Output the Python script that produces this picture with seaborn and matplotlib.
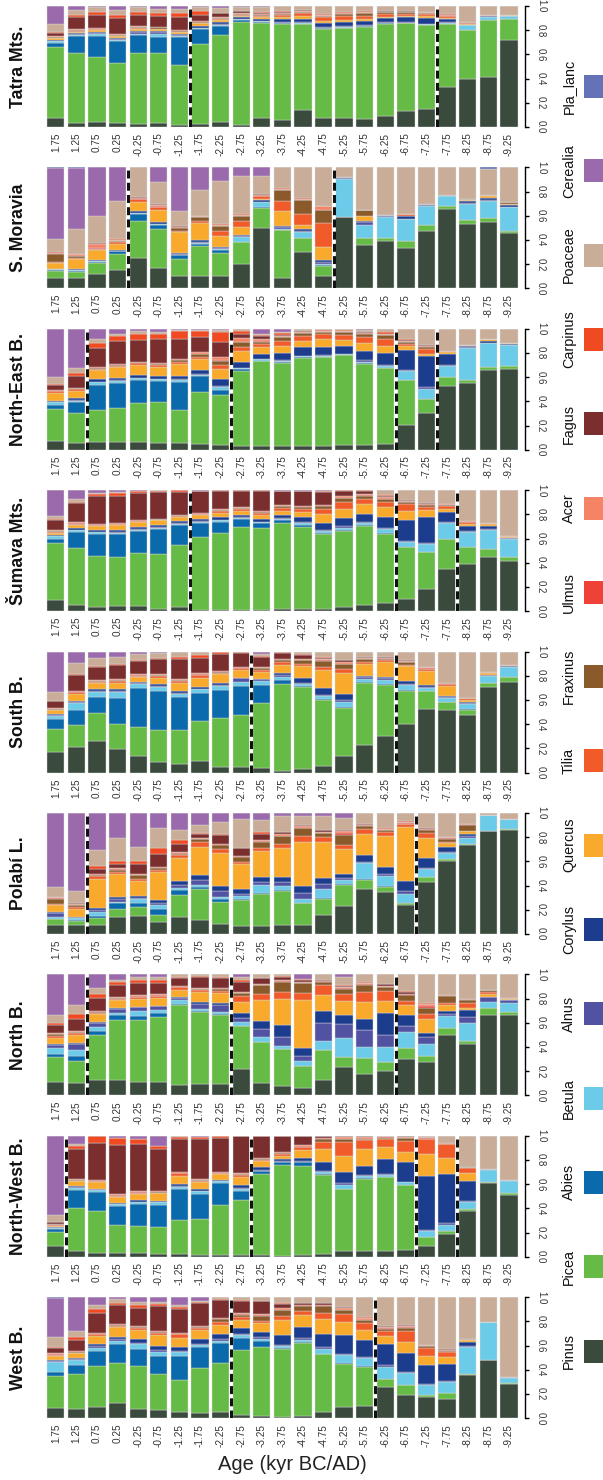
import numpy as np
import matplotlib
matplotlib.use("Agg")
import matplotlib.pyplot as plt
from matplotlib.patches import Rectangle
from matplotlib import font_manager as fm
import seaborn as sns

# ---------------------------------------------------------------- data
ages = ["1.75", "1.25", "0.75", "0.25", "-0.25", "-0.75", "-1.25", "-1.75",
        "-2.25", "-2.75", "-3.25", "-3.75", "-4.25", "-4.75", "-5.25", "-5.75",
        "-6.25", "-6.75", "-7.25", "-7.75", "-8.25", "-8.75", "-9.25"]

taxa = ["Pinus", "Picea", "Abies", "Betula", "Alnus", "Corylus", "Quercus",
        "Tilia", "Fraxinus", "Ulmus", "Acer", "Fagus", "Carpinus", "Poaceae",
        "Cerealia", "Pla_lanc"]

taxon_colors = ["#3a4b3e", "#66bb46", "#0b6aac", "#6ccbe8", "#5252a3", "#1c3c8e",
                "#f9a92b", "#f15a29", "#8b5a2b", "#ee4137", "#f58466", "#7a2f2e",
                "#f04a22", "#c9ad98", "#9a6aac", "#6473b8"]

# one row per age bin, columns follow `taxa` (percent of pollen sum)
tatra = [
    [8, 60, 3.5, 1, .5, .5, 1.5, .5, .5, .5, .5, 3, .5, 7, 15, 0],
    [3, 58, 14, 1, .8, .8, 1.4, .5, .8, .3, .3, 10.5, 1.4, 4, 3.3, 0],
    [4, 55, 17, 2, 1, .8, 1.4, .5, .5, .3, .3, 11, 2.5, 4, 1, 0],
    [3, 51, 18, 1, 1, 1, 1.4, .5, .5, .3, .3, 14, 2.5, 4, 3.3, 0],
    [2.5, 60, 15, 1, 1, 1, 2, .5, .8, .3, .3, 9.5, 2.5, 4, 1.2, 0],
    [3.5, 58, 13, 3, 1, 1, 1.5, .5, 1, .3, .3, 8.5, 2.5, 3.5, 2.7, 0],
    [2, 49, 23, 1, 1, 1, 1.2, .5, .8, .3, .3, 11, 2.7, 3.5, 2.5, 0],
    [2.5, 67, 12, 1, .5, 1.5, 2, .5, 1, .3, .5, 5, 3.3, 3, 1, 0],
    [4, 72, 8, .5, .5, 2, 1.5, .8, 1, .3, .5, 3, .7, 3.5, 2, 0],
    [1.7, 85.5, 2, .3, .3, 1.5, 1.4, .5, .8, .3, .3, 1.5, .5, 3, 1, 0],
    [7.5, 79, .5, .5, .5, 1.5, 1.7, 1, 1, .3, .5, .8, .5, 4.5, .5, 0],
    [5.5, 80, .5, .5, .5, 2.7, 2, 1.5, 1, .3, .5, .5, .5, 4.5, 0, 0],
    [14, 71, .5, .5, .5, 2.7, 3, 2, 1, .3, .5, .5, .3, 3.3, 0, 0],
    [7.7, 73.5, .5, .5, .5, 3.3, 2, 2.7, 1, .3, .5, .5, .5, 6.6, 0, 0],
    [7, 73.5, .3, .8, .5, 3.3, 2, 2.7, 2, .3, .5, .3, .3, 5, 0, 0],
    [6.3, 76.5, .3, .3, .5, 3.3, 2, 2.7, 2, .3, .5, .3, .3, 4.5, 0, 0],
    [9, 77, .3, .5, .5, 3.6, 1, 2.2, 1.4, .3, .3, .3, .3, 4, 0, 0],
    [13, 73, .3, .3, .5, 4, 1.4, 1.4, 1.4, .3, .3, .3, .3, 4, 0, 0],
    [14.6, 70, .3, .3, .5, 5, 1.1, 1.6, 1.1, .3, .3, .3, .3, 4.7, 0, 0],
    [33.7, 52.5, .3, .5, .5, 2.7, 1, 1.4, .5, .3, .3, .3, .3, 7, 0, 0],
    [39.5, 41, 0, 4.4, 0, .3, .5, 1, .3, .3, .3, 0, 0, 13, 0, 0],
    [41.4, 47, 0, 2.2, .3, .5, .3, .5, .3, 0, 0, 0, 0, 7.5, 0, 0],
    [72.4, 16.9, 0, 2.5, .3, .3, .3, .3, 0, 0, 0, 0, 0, 7.5, 0, 0],
]

s_moravia = [
    [8.6, 6, .5, .8, .3, .3, 4.7, .8, 7, .3, .3, .3, .3, 11, 60, .3],
    [8.3, 5.5, 1, .5, 0, .5, 8.3, 1.4, 1, .3, 1.6, 0, 0, 20.8, 51, .3],
    [12, 8.3, 1.5, .5, .3, .5, 8.3, .5, .5, .3, 3.5, .8, 0, 22, 39.6, 0],
    [15.5, 13, 2.2, .5, .3, .8, 4.7, 1.4, .6, .5, .5, .3, 1, 31.6, 27.7, 0],
    [25, 30.5, 5.8, 1, .5, 1.7, 7, 2.2, .5, .3, .3, .5, .5, 24.4, 0, 0],
    [16.6, 32, 3.3, .5, .5, 1.4, 9.7, 2.5, .5, .3, 1, .5, .3, 18, 12, 0],
    [10, 14.4, 3.3, .5, .5, .5, 17.5, 1.1, 2.8, .3, .5, .5, .3, 12, 36.8, 0],
    [10, 24.6, 2.2, .8, 1, 1.1, 13.9, 2, 2.8, .3, .5, .3, .5, 20.8, 18.8, 0],
    [10.5, 18.6, 2.2, 1, .5, 1.4, 9, 3.6, 3.9, .3, .5, .5, .5, 35.5, 11, 0],
    [19.7, 17.7, .5, 3.9, .5, 1.4, 6.6, 4.7, 3.6, .5, .5, .3, .3, 31, 7.2, 0],
    [50.7, 16.6, .3, 4.4, .5, 1.1, 1.4, 1.9, .5, .5, .5, .3, .3, 15.2, 6.9, 0],
    [8.3, 40.4, .3, .5, 1.4, 1.1, 13, 7.8, 9.1, .5, .5, .3, .3, 17.5, 0, 0],
    [30.5, 11, .3, 4.7, 1.4, 1.1, 3.6, 9.4, 11.4, .3, .5, .3, .3, 25.8, 0, 0],
    [10, 8.9, .3, 1.4, 1.4, 2, 11, 20, 10.5, .5, 2.8, .3, .3, 31.9, 0, 0],
    [59, .5, 0, 30.7, 1.4, .3, 0, 0, 0, 0, 0, 0, 0, 8.3, 0, 0],
    [36.3, 5.5, 0, 11, 2.5, .5, 3.9, .5, 4.4, 0, 0, 0, 0, 35.5, 0, 0],
    [39, 2.8, 0, 17.2, .5, .8, 0, 0, 0, 0, 0, 0, 0, 39.6, 0, 0],
    [33.2, 5.5, 0, 18.3, .5, 2, .5, 1.4, 0, 0, 0, 0, 0, 38.2, 0, 0],
    [46.5, 5.5, 0, 15.2, .5, 1.1, 0, 0, 0, 0, 0, 0, 0, 30, 0, 0],
    [65.9, 1.9, 0, 8.3, .3, .8, 0, 0, 0, 0, 0, 0, 0, 22.7, 0, 0],
    [53.5, 2.8, 0, 13.9, .5, 1.7, .5, 0, 1.4, 0, 0, 0, 0, 25.8, 0, 0],
    [54.8, 3.6, 0, 13.9, .5, 2.2, 1.1, .8, .3, 0, 0, 0, 0, 21.6, 0, 1.1],
    [45.2, 2.2, 0, 19.1, .5, 1.4, .5, 0, 1.9, 0, 0, 0, 0, 28.5, 0, 0],
]

ne_bohemia = [
    [7.8, 26.3, 3.6, 2.2, .5, .5, 6.9, 1.4, .5, .5, .5, 3.6, 1.4, 5.3, 41, 0],
    [5.8, 24.4, 9.4, 1, .5, 1.7, 6.4, 1.4, .5, 0, 0, 10, 2.8, 4.2, 32.4, 0],
    [6.4, 26.6, 21.3, 1.9, .5, 1.9, 7.5, 1.4, .8, .3, .3, 15.8, 4.4, 3.3, 8.3, 0],
    [6.6, 28.3, 20.2, 1.9, .5, 1.9, 8.9, 1.4, .8, .3, .3, 18.8, 4.7, 1.4, 4.2, 0],
    [6.6, 32.4, 18.6, 1.5, .5, 2.2, 8.3, 1.4, .8, .3, .3, 18, 5, 1.9, 2.2, 0],
    [5.5, 34, 16.9, 1.5, .5, 2.2, 7.8, 1.4, 1, .3, .5, 19.4, 4.2, 1.4, 2.8, 0],
    [5.8, 26.9, 23.5, 1.7, .5, 2.8, 10, 1.7, 1.7, .3, .3, 16.6, 6.1, 1.4, .8, 0],
    [5, 43, 12.7, 1.4, .5, 3.3, 8.9, 1.9, 2.2, .3, 1.4, 12.5, 4.7, 1.4, .8, 0],
    [3.9, 40.2, 4.7, 1.9, 1.4, 5, 8.6, 2.8, 3.6, .5, 2.8, 11.6, 8.9, 1.4, .8, 0],
    [2.8, 61.8, 1.7, .8, .5, 5, 8.9, 2.8, 4.2, .5, 2.8, 3.6, 2.8, 1, .5, 0],
    [3.3, 68.4, .5, 1, .5, 4.2, 5.5, 2.2, 1.9, .5, 1.7, 2.2, 1.1, .8, 4.2, 0],
    [3.3, 67, .5, 1, .5, 5.5, 5.8, 4.4, 2.5, .5, .5, 1.4, 1.4, 1, 2.2, 0],
    [3.3, 72.6, .5, .8, .5, 7.5, 4.7, 4.2, 1.9, .5, .5, .8, .5, 1, .5, 0],
    [3.3, 73.7, .5, .8, .5, 6.4, 6.9, 4.2, 1.4, .5, .5, .5, .5, 1, 0, 0],
    [3.6, 74.8, .5, .5, .5, 6.4, 5, 4.2, 1.9, .5, .5, .5, .5, 1, 0, 0],
    [4.2, 67.3, .5, 1, 1.7, 7.5, 6.4, 5, 2.5, .5, .5, .5, .5, 1, 1.4, 0],
    [5, 63.2, .5, 1.9, .8, 9.7, 6.1, 5.8, 2.8, .5, .5, .5, 1.4, 2.2, .5, 0],
    [21, 37.4, 0, 6.9, 1.4, 16.6, 2.8, 1.9, 1.4, .5, .5, .5, 1.4, 8.3, 0, 0],
    [30.7, 11.6, 0, 8.3, 1.4, 25.2, 2.2, 4.2, 1.4, .5, .5, .5, .5, 13, 0, 0],
    [52.9, 6.9, 0, 9.7, .8, 9.1, 1.4, .5, .5, 0, 0, 0, 0, 18, 0, 0],
    [55.7, 2.2, 0, 26.9, .5, 1.1, .5, .3, 0, 0, 0, 0, 0, 13.3, 0, 0],
    [65.4, 2.8, 0, 19.4, .5, 1.4, 1.4, .5, 0, 0, 0, 0, 0, 8.3, 0, 0],
    [66.8, 2.2, 0, 17.2, .5, .8, .3, 0, 0, 0, 0, 0, 0, 12, 0, 0],
]

sumava = [
    [9.2, 48, 3.6, 2.2, .5, .5, 2, .8, .5, .5, .5, 8.4, .5, 3.1, 21.5, 0],
    [5.6, 47.8, 13.1, 1.4, .5, 1.4, 2.8, .5, .5, .5, .5, 15.9, 1.4, 2.2, 7.5, 0],
    [3.6, 43.3, 18.2, 1.4, .5, 1.4, 3.4, .5, .5, .5, .5, 22.9, 2.2, .8, 2.2, 0],
    [4.2, 41.9, 19, 1, .5, 2, 4.2, .5, .5, .5, .5, 22.9, 2, .8, 1.7, 0],
    [4.5, 43, 18.2, 1, .5, 2, 4.2, .5, .5, .3, .3, 22, 1.4, .5, .5, 0],
    [2.2, 45.3, 20.4, 1, .5, 2, 3.6, .5, .5, .3, .3, 21.5, 1.4, .5, 0, 0],
    [3.1, 51.4, 16.8, 1, .5, 1.7, 3.6, .5, .5, .3, .3, 18.7, 1.4, 0, 0, 0],
    [1.4, 60, 11.2, 1, .5, 2, 3.4, .5, .5, .3, .3, 17.6, .5, 0, .5, 0],
    [.8, 63.7, 9.8, 1, .5, 2, 3.6, 1.4, .8, .3, .5, 15.4, .5, 0, 0, 0],
    [.8, 69.8, 7, .8, .5, 2, 3.4, 1.4, .8, .3, .5, 14, .3, 0, 0, 0],
    [.8, 68.4, 3.6, 1, .5, 2.2, 3.1, 2, .8, .3, .5, 16.8, .3, 0, 0, 0],
    [1.7, 71.8, 2.8, .8, .5, 2.8, 3.4, 2.2, 1.4, .3, .5, 11.7, .5, 0, .5, 0],
    [1.7, 67.6, 1.4, 2, .8, 4.2, 4.2, 2.2, 2, .3, .5, 11.7, .5, 0, .5, 0],
    [2.2, 61.5, .5, 1.7, 1.1, 5.6, 7.3, 3.9, 2.8, .5, .5, 10.3, .5, .5, .5, 0],
    [3.6, 62, .5, 1.7, 1.4, 6.4, 7.5, 5.9, 2.8, .5, 1.4, 4.2, .5, 0, 0, 0],
    [5, 64.2, .5, 1.7, 1.1, 6.4, 7.8, 4.2, 2.8, .5, 1.4, 2.2, .5, 0, 0, 0],
    [7, 57.3, .5, 3.4, .8, 9.5, 8.1, 4.2, 2, .5, 1.4, 1.1, .5, 4.2, 0, 0],
    [10, 42.5, 0, 4.7, .8, 16.8, 7.8, 5.6, 1.4, .5, .5, .8, .5, 7.8, 0, 0],
    [18.4, 31.3, 0, 6.1, .8, 22.3, 5.6, 2.8, 1.4, .5, .5, .5, .5, 10.3, 0, 0],
    [34.9, 25.1, 0, 12.6, .8, 8.4, 2.8, 2, 1.4, .3, .5, 0, 0, 11.2, 0, 0],
    [38.5, 14.8, 0, 11.7, .8, 4.7, 1.4, 1.4, .5, .3, .5, 0, 0, 25.1, 0, 0],
    [45, 6.7, 0, 15.6, .8, 2.8, 1.4, .8, 0, 0, 0, 0, 0, 27.1, 0, 0],
    [41.9, 3.1, 0, 15.1, .5, .5, .5, .5, 0, 0, 0, 0, 0, 38.3, 0, 0],
]

south_bohemia = [
    [17.5, 18.6, 8.3, 2.8, .5, .8, 3.3, .5, .5, .5, .5, 5.6, .5, 7.5, 33.3, 0],
    [21.4, 18.9, 12.5, 5.6, .5, 1.4, 5.6, 1.4, .5, .5, .5, 13.3, .8, 9.4, 9.2, 0],
    [26.4, 23.6, 13.3, 4.7, .5, 1.4, 5, 1.4, .5, .5, .5, 11.1, .8, 6.4, 5.6, 0],
    [19.4, 21.7, 21.9, 5, .5, 1.7, 5.3, 1.4, .5, .5, .5, 11.9, .8, 5.8, 4.7, 0],
    [13.9, 24.4, 32.5, 3.6, .5, 1.4, 3.6, 1.1, .5, .5, .5, 11.4, .8, 5, 1.9, 0],
    [8.9, 26.7, 32.5, 3.6, .5, 1.4, 5.6, 1.4, .5, .5, .5, 12.5, 1.4, 3.6, 1.4, 0],
    [6.9, 29.2, 26.9, 3.1, .5, 1.4, 6.9, 1.9, .5, .5, .5, 16.7, 2.2, 4.2, 0, 0],
    [9.2, 33.9, 22.8, 3.1, .5, 1.4, 7.8, 1.9, .5, .5, .5, 13.1, 2.2, 2.8, 0, 0],
    [4.7, 40.6, 22.8, 3.3, .8, 1.4, 7.5, 1.4, .5, .5, .5, 13.9, 1.4, .5, 0, 0],
    [5, 42.2, 24.4, 3.3, 2.8, .8, 6.1, 1.4, .5, .5, .5, 11.1, .8, .5, 0, 0],
    [3.6, 53.9, 15.3, 3.1, 1.4, .6, 5.6, 1.4, 1.4, .5, .5, 8.9, .5, 1.7, 1.9, 0],
    [1.4, 71.4, 2.8, 2.8, 1.4, 2.2, 6.1, 2.2, 2.2, .5, .5, 4.7, .5, .5, 0, 0],
    [2.8, 68, .5, 1.4, 1.4, 3.6, 10, 1.9, 2.8, .5, .5, 3.6, .5, 2.2, 0, 0],
    [5, 54.7, .5, 2.2, 1.4, 5.6, 14.7, 1.9, 5.6, .5, .5, 1.1, .5, 4.2, .5, 0],
    [13.9, 40.3, .5, 4.2, 1.4, 5.6, 17.5, 2.8, 4.2, .5, 1.4, 1.4, .5, 6.9, 0, 0],
    [23, 51.9, .5, 3.3, 1.4, .8, 9.7, 2.2, 1.9, .5, .5, .8, .5, 4.2, 0, 0],
    [30.6, 43, .5, 3.6, 1.4, 1.4, 12.5, 1.9, .5, .5, .5, .5, .5, 4.2, 0, 0],
    [41.1, 27.5, .5, 4.4, 1.1, 2.8, 11.9, 1.4, 2.2, .5, .5, .5, .5, 6.9, 0, 0],
    [52.8, 14.7, 0, 2.2, 1.1, 1.7, 11.7, 1.4, .5, .5, .5, 0, 0, 13.1, 0, 0],
    [52.2, 6.9, 0, 2.8, .8, 1.4, 7.8, 1.4, .5, .5, .5, 0, 0, 25.8, 0, 0],
    [47.2, 4.7, .5, 4.4, .8, .8, 1.4, 1.4, .5, 0, 0, 0, 0, 38.1, 0, 0],
    [70.8, 2.8, 0, 5.6, .8, .5, 1.4, .5, 0, 0, 0, 0, 0, 17.2, 0, 0],
    [75, 4.2, 0, 7.8, .5, .5, .5, .5, 0, 0, 0, 0, 0, 11.1, 0, 0],
]

polabi = [
    [7.2, 5.3, .5, 1.7, 3.3, .8, 5.6, .5, 4.7, .5, .8, .3, .3, 8.3, 61.7, .3],
    [7.2, 3.9, .5, 1.4, .8, .5, 6.9, 1.4, 1.4, .5, .5, .5, 0, 10, 65, .3],
    [7.8, 5.6, 1.9, 2.8, 2.2, 1.4, 23.6, 2.8, .8, .5, .5, 3.6, 2.8, 13.1, 30.6, .3],
    [13.9, 6.9, 4.2, 1.4, 2.2, 1.4, 18.9, 1.4, 2.2, .5, .5, 3.6, 2.2, 18.6, 20.8, 0],
    [14.7, 7.8, 3.3, 2.8, 1.4, 1.4, 12.5, 1.4, 3.3, .5, .5, 8.3, 2.2, 12.2, 27.8, 0],
    [9.7, 6.4, 4.7, 3.6, 1.4, 2.8, 23.1, 1.4, 1.9, .5, .5, 10, 5.3, 16.9, 12.2, 0],
    [14.2, 17.8, 4.4, 1.9, 1.9, 3.1, 19.4, 2.2, 1.4, .5, .5, 6.9, 3.6, 7.5, 14.4, 0],
    [11.4, 25.6, 1.9, 1.4, 4.4, 3.9, 23.6, 4.2, 2.2, .5, .5, 3.1, 1.1, 6.9, 9.7, 0],
    [8.3, 18.1, 2.2, 2.2, 4.7, 4.2, 27.2, 3.3, 3.6, .5, .5, 6.9, 1.4, 9.7, 7.5, 0],
    [6.4, 21.7, 1.4, 2.5, 1.4, 4.4, 20.6, 1.4, 4.4, .5, .5, 6.1, .5, 24.2, 4.7, 0],
    [6.9, 26.4, .5, 6.9, 2.2, 4.7, 21.7, 1.9, 5.6, .5, .5, 5.6, 1.4, 9.7, 6.1, 0],
    [7.2, 28.3, .5, 3.6, 3.3, 4.4, 23.6, 3.3, 6.4, .5, 1.4, 1.4, .5, 12.8, 2.5, 0],
    [7.8, 17.5, .5, 2.8, 5.6, 5.6, 36.1, 5, 6.4, .5, 1.4, .5, .5, 7.2, 2.5, 0],
    [16.1, 13.3, .5, 7.5, 4.4, 4.7, 30, 3.9, 3.6, .5, .5, 1.4, .5, 11.4, 2.5, 0],
    [23.1, 17.5, .5, 3.6, 1.1, 3.6, 20.8, 3.6, 7.8, 1.9, 1.4, .5, .5, 10, 3.9, 0],
    [37.8, 7.5, .5, 13.3, 1.4, 5.6, 17.5, 3.9, 2.8, .5, .5, .5, .5, 8.9, 0, 0],
    [35, 4.2, .5, 8.3, 2.2, 5.6, 25.6, 3.6, 1.4, .5, .5, .5, .5, 12.5, 0, 0],
    [24.4, 1.4, .5, 7.8, 2.2, 8.1, 45.3, 2.8, .5, .5, .5, .5, .5, 6.9, 0, 0],
    [43.1, 3.6, 0, 6.9, .8, 8.1, 16.1, 4.7, 2.2, .5, .5, .5, 0, 12.5, 0, 0],
    [60, 1.4, 0, 5.3, .8, 4.2, 2.8, 1.4, 2.5, .5, .5, 0, 0, 20, 0, 0],
    [73.1, .8, 0, 4.7, 1.4, 1.9, 2.2, .5, 4.7, .5, 0, 0, 0, 9.4, 0, 0],
    [84.7, 0, 0, 13.3, 0, 0, 0, 0, 0, 0, 0, 0, 0, 1.9, 0, 0],
    [85.6, .8, 0, 8.9, 0, 0, 0, 0, 0, 0, 0, 0, 0, 4.7, 0, 0],
]

north_bohemia = [
    [11.1, 20.8, 2.2, 5.5, 2.2, .5, 5.5, 1.4, 1.4, .5, .5, 6.9, 1.4, 6.4, 34.1, 0],
    [10.5, 18.6, 4.2, 5, 4.7, .8, 6.9, 1.4, .5, .5, .5, 10.5, 4.2, 6.9, 25.8, 0],
    [13.3, 37.4, 3.6, 3.3, 2.8, 1.4, 6.1, 1.4, .5, .5, .5, 11.1, 3.3, 5, 11.1, 0],
    [12.7, 50.4, 4.2, 1.4, 2.8, 1.4, 6.1, 1.4, .5, .5, .5, 9.7, 2.8, 1.9, 4.4, 0],
    [11.1, 51.2, 3.6, 3.6, 3.3, .5, 6.4, 1.4, .5, .5, .5, 10.5, 2.5, 2.2, 2.2, 0],
    [11.1, 54, 3.6, 1.9, 3.6, .5, 6.4, 1.4, .5, .5, .5, 9.7, 2.5, 2.2, 2.2, 0],
    [8.6, 67, .5, 3.6, 1.9, .5, 6.1, 1.9, .5, .5, .5, 6.4, .8, 2.2, 0, 0],
    [9.1, 60.1, .5, 1.7, 4.7, 1.4, 8.3, 1.9, .5, .5, .5, 9.1, .5, 1.7, 0, 0],
    [9.1, 56.8, .5, 2.2, 5, 2.2, 7.8, 1.9, 1.7, .5, .5, 7.8, .8, 2.2, 0, 0],
    [21.6, 35.5, 0, 2.8, 3.3, 4.2, 9.4, 4.2, 2.5, .5, .5, 8.3, 1.9, 2.2, 2.2, 0],
    [10, 34.3, 0, 3.6, 6.9, 6.1, 18, 4.2, 7.5, .5, .5, 4.7, .5, 2.8, 0, 0],
    [7.8, 30.5, 0, 2.8, 6.9, 9.7, 22.2, 5, 8.9, .5, .5, 2.8, .5, 1.7, 0, 0],
    [6.4, 18, 0, 4.2, 4.2, 6.4, 39.9, 5.5, 7.8, .5, .5, 1.9, .5, .5, 3.6, 0],
    [13.3, 24.9, 0, 7.5, 14.7, 10.5, 13.6, 8.3, 2.2, .5, .5, .5, .5, 4.4, 0, 0],
    [23, 8.9, 0, 15.2, 11.9, 6.9, 11.9, 5.5, 4.2, .5, 1.4, .5, .5, 6.9, 2.2, 0],
    [17.5, 13.3, 0, 8.9, 14.4, 9.1, 13.9, 8.3, 6.4, .5, .5, .5, .5, 6.4, 0, 0],
    [20.2, 7.8, 0, 12.2, 10.5, 18, 10.2, 8.6, 2.8, .5, .5, 1.4, .5, 7.8, 0, 0],
    [29.9, 9.1, 0, 13, 4.7, 9.1, 8.3, 3.6, 5, .5, .5, 1.4, .5, 13.9, 0, 0],
    [27.1, 5.5, 0, 9.7, 5.5, 3.6, 11.4, 3.9, 5.5, 1.4, 1.4, .5, .5, 23.5, 0, 0],
    [50.1, 5.5, 0, 10.2, 1.4, 2.8, 4.2, 2.2, 5.5, .5, .5, 0, 0, 16.9, 0, 0],
    [42.9, 2.2, 0, 15.2, 4.7, 5.5, 2.2, 3.6, 2.8, .5, 0, 0, 0, 20.8, 0, 0],
    [65.9, 5.5, 0, 5, 4.2, .5, 2.2, 1.9, 1.4, 0, 0, 0, 0, 12.7, 0, 0],
    [66.8, 2.8, 0, 7.5, 1.9, .8, .5, .5, .5, 0, 0, 0, 0, 19.4, 0, 0],
]

nw_bohemia = [
    [9.2, 11.7, 2.8, .8, .5, .5, .5, .5, 1.4, 0, 0, 1.4, 0, 6.1, 66.5, 0],
    [4.5, 36.3, 15.4, 2, .5, .5, 4.2, .5, .5, .5, .5, 25.1, 2.8, 1.4, 7, 0],
    [3.1, 34.6, 16.2, 1.7, .5, .5, 5.6, .5, .5, .5, .5, 30.7, 5.6, 0, 0, 0],
    [3.1, 23.5, 15.4, 1.4, .5, .5, 5, .5, .5, .5, .5, 41.1, 5, 0, 2.2, 0],
    [3.1, 22.3, 17.9, 1.4, .5, 1.4, 5, .5, .5, .5, .5, 39.1, 3.6, 0, 2.8, 0],
    [2.2, 22.3, 18.7, 2, .5, .8, 6.4, .5, .5, .5, .5, 34.4, 2.8, 0, 8.4, 0],
    [2.2, 27.9, 25.1, 2, .5, 1.4, 7, 2, .5, .5, .5, 26.5, 2, .8, 0, 0],
    [1.4, 30.2, 20.9, 2, .5, 1.4, 6.1, .5, .5, .5, .5, 33, 2.2, 0, .8, 0],
    [1.1, 42.5, 18.2, 2, .5, .8, 4.7, .5, .5, .5, .5, 28.2, 2, 0, 0, 0],
    [1.1, 46.6, 7, 2, .5, 2.8, 7, 1.4, .5, .5, .5, 30.7, .5, 0, 0, 0],
    [1.1, 68.2, 2, .5, .5, 2.8, 4.5, 1.4, .5, .5, .5, 18.4, 0, 0, 0, 0],
    [.6, 76.5, 2, .5, .5, 2.2, 2.5, 1.7, .5, .5, .5, 13.4, 0, 0, 0, 0],
    [1.1, 74.6, 2.8, .5, .5, 2.2, 7, 2, .5, .5, 1.4, 7.3, 0, 0, 0, 0],
    [2.2, 65.6, .5, 2, .5, 7.5, 10.6, 6.1, 2.2, .5, .5, 1.7, 0, 0, 0, 0],
    [4.5, 50.8, .5, 2.8, 1.7, 8.9, 13.4, 11.2, 2.2, .5, 1.4, .5, .5, 0, 0, 0],
    [4.5, 60.6, .5, 2, .8, 7.5, 13.7, 7.8, .5, .5, 1.4, .5, .5, 0, 0, 0],
    [4.5, 61.5, .5, 1.4, .5, 12.6, 9.8, 7, 1.1, .5, .5, .5, 0, 0, 0, 0],
    [5.6, 53.4, .5, 2, .5, 15.9, 8.7, 9.2, 2, .5, .5, .5, 0, .5, 0, 0],
    [9.2, 7, 0, 4.7, 1.4, 44.1, 18.2, 12.3, .5, .5, .5, 0, 0, 1.4, 0, 0],
    [18.4, 2.8, 0, 5.3, 1.4, 40.8, 13.1, 10.9, .5, .5, .5, 0, 0, 5.6, 0, 0],
    [38, 1.1, 0, 6.4, .8, 16.5, 6.1, 4.2, .5, 0, 0, 0, 0, 26, 0, 0],
    [60.9, .8, 0, 10.3, .8, 0, 0, 0, 0, 0, 0, 0, 0, 27.1, 0, 0],
    [51.1, 1.4, 0, 9.8, .8, 0, 0, 0, 0, 0, 0, 0, 0, 36.9, 0, 0],
]

west_bohemia = [
    [8.6, 26.9, 2.8, 8.3, 1.4, .5, 3.6, .5, .5, .5, .5, 4.7, .8, 7.8, 33.2, .3],
    [7.8, 28.5, 7.5, 4.2, 1.4, .5, 3.9, .5, .5, .5, .5, 8.9, 2.2, 5.3, 28, 0],
    [9.1, 34.1, 13, 1.9, 1.9, 1.4, 6.9, 1.4, .5, .5, .5, 16.6, 2.8, 3.6, 6.4, 0],
    [12.5, 33.5, 15.8, 2.8, 1.9, 1.7, 7.8, 1.4, .5, .5, .5, 15.8, 1.9, 2.8, 1.7, 0],
    [7.8, 35.5, 14.4, 3.6, 1.4, 2.8, 7.8, 1.9, .5, .5, .5, 14.7, 2.8, 1.9, 4.4, 0],
    [6.4, 29.9, 15, 3.6, 1.4, 3.6, 9.1, 1.9, .5, .5, .5, 20.2, 1.9, 2.2, 3.6, 0],
    [5, 27.1, 19.9, 2.8, .8, 3.9, 7.5, 2.8, .5, .5, .5, 19.4, 2.2, 1.4, 6.4, 0],
    [4.2, 37.7, 17.2, 1.9, .8, 3.6, 7.5, 2.2, .5, .5, .5, 18.8, .8, 1.4, 2.8, 0],
    [5, 40.7, 16.1, 1.9, 1.4, 4.4, 7.5, 2.2, 2.8, .5, .5, 15, .8, 1.1, 0, 0],
    [2.8, 52.9, 9.7, 1.9, .8, 5, 6.9, 2.2, 1.9, .5, .5, 10.5, .5, 2.2, 0, 0],
    [1.7, 56.5, 5.5, 1.7, 1.4, 4.2, 6.9, 2.2, 4.2, .5, .5, 10.8, .5, 2.8, 0, 0],
    [.8, 56.2, .5, 1.4, 1.4, 7.8, 11.9, 3.3, 5, .5, 1.4, 3.3, .5, 5, 0, 0],
    [2.2, 60.4, .5, 1.9, 1.4, 9.1, 9.7, 3.6, 4.2, .5, .5, 1.4, .5, 4.4, 0, 0],
    [5.5, 47.4, .5, 4.2, 1.4, 10.5, 12.5, 5.5, 5.5, .5, .5, 1.4, .5, 4.4, 0, 0],
    [9.1, 35.5, .5, 6.4, 1.1, 15.5, 11.1, 6.4, 3, .5, 1.4, .5, .5, 7.8, 0, 0],
    [10.5, 32.4, .5, 6.9, 1.4, 14.1, 7.8, 6.1, 2.2, .5, 1.4, .5, .5, 16.6, 0, 0],
    [25.8, 6.9, 0, 9.7, 1.4, 17.5, 6.9, 3.6, 1.9, .5, 1.4, .5, 0, 23.8, 0, 0],
    [18.8, 8.3, 0, 9.1, 1.4, 15.2, 9.1, 8.3, 2.8, .5, 1.4, .5, 0, 22.4, 0, 0],
    [17.5, 1.4, 0, 8.3, .8, 15.8, 7.2, 6.4, 1.4, .5, .5, .5, 0, 38.8, 0, 0],
    [16.1, 5, 0, 8.9, .8, 14.4, 5.8, 3.6, 1.1, .5, .5, .5, 0, 43.2, 0, 0],
    [36, .3, 0, 22.7, .8, 3.3, 1.4, .5, .5, 0, 0, 0, 0, 34.6, 0, 0],
    [47.9, 0, 0, 31.3, .5, 0, 0, 0, 0, 0, 0, 0, 0, 20.2, 0, 0],
    [28.5, .5, 0, 4.4, .5, 0, 0, 0, 0, 0, 0, 0, 0, 65.9, 0, 0],
]

# zone boundaries: a dashed line follows each listed age bin
tatra_zones = ["-1.25", "-7.25"]
s_moravia_zones = ["0.25", "-4.75"]
ne_bohemia_zones = ["1.25", "-2.25", "-6.25", "-7.25"]
sumava_zones = ["-1.25", "-6.25", "-7.75"]
south_bohemia_zones = ["-2.75", "-6.25"]
polabi_zones = ["1.25", "-6.75"]
north_bohemia_zones = ["1.25", "-2.25", "-6.25"]
nw_bohemia_zones = ["1.75", "-2.75", "-6.75", "-7.75"]
west_bohemia_zones = ["-2.25", "-5.75"]

site_names = ["Tatra Mts.", "S. Moravia", "North-East B.", "Šumava Mts.",
              "South B.", "Polabí L.", "North B.", "North-West B.", "West B."]
site_tables = [tatra, s_moravia, ne_bohemia, sumava, south_bohemia, polabi,
               north_bohemia, nw_bohemia, west_bohemia]
site_zones = [tatra_zones, s_moravia_zones, ne_bohemia_zones, sumava_zones,
              south_bohemia_zones, polabi_zones, north_bohemia_zones,
              nw_bohemia_zones, west_bohemia_zones]

# ---------------------------------------------------------------- style
sns.set_style("white")
installed = {f.name for f in fm.fontManager.ttflist}
if "Liberation Sans Narrow" in installed:
    axis_font = ["Liberation Sans Narrow", "DejaVu Sans"]
    x_size, y_size, leg_size = 8.6, 8.2, 12.5
else:
    axis_font = ["Liberation Sans", "DejaVu Sans"]
    x_size, y_size, leg_size = 7.2, 6.9, 10.4
plt.rcParams["font.family"] = ["Liberation Sans", "DejaVu Sans"]

W, H = 603, 1480
fig = plt.figure(figsize=(W / 100, H / 100), dpi=100)

ax_left, ax_right = 43, 525
panel_top0, panel_pitch, panel_h = 6, 161.4, 121


def fx(px):
    return px / W


def fy(px):
    return 1 - px / H


for i, (name, rows, zones) in enumerate(zip(site_names, site_tables, site_zones)):
    top = panel_top0 + panel_pitch * i
    ax = fig.add_axes([fx(ax_left), fy(top + panel_h),
                       fx(ax_right - ax_left), panel_h / H])

    frac = np.asarray(rows, dtype=float)
    frac = frac / frac.sum(axis=1, keepdims=True)
    base = np.cumsum(frac, axis=1) - frac
    for j, col in enumerate(taxon_colors):
        sns.barplot(x=ages, y=frac[:, j], order=ages, bottom=base[:, j],
                    color=col, saturation=1, width=0.84, errorbar=None,
                    edgecolor="#d9d9d9", linewidth=0.3, ax=ax)

    for z in zones:
        pos = ages.index(z) + 0.5
        ax.axvline(pos, color="white", lw=2.6, zorder=5)
        ax.axvline(pos, color="#111111", lw=2.2, dashes=(2.6, 1.4), zorder=6)

    ax.set_xlim(-0.62, 22.78)
    ax.set_ylim(0, 1)
    ax.set_xlabel("")
    ax.set_ylabel("")
    ax.grid(False)
    for side in ("top", "left", "bottom"):
        ax.spines[side].set_visible(False)
    ax.spines["right"].set_visible(True)
    ax.spines["right"].set_color("black")
    ax.spines["right"].set_linewidth(1.0)
    ax.yaxis.tick_right()
    yt = [0, 0.2, 0.4, 0.6, 0.8, 1.0]
    ax.set_yticks(yt)
    ax.set_yticklabels([f"{v:.1f}" for v in yt], rotation=-90, va="center",
                       ha="left", family=axis_font, fontsize=y_size,
                       color="#333333")
    ax.tick_params(axis="y", direction="out", length=3, width=1,
                   color="black", pad=5, right=True, left=False)
    ax.set_xticks(range(len(ages)))
    ax.set_xticklabels(ages, rotation=90, family=axis_font, fontsize=x_size,
                       color="#333333")
    ax.tick_params(axis="x", length=0, pad=4)

    fig.text(fx(18.5), fy(top + panel_h / 2), name, rotation=90,
             ha="center", va="center", fontsize=12.7, fontweight="bold",
             color="#111111")

fig.text(fx(292), fy(1465), "Age (kyr BC/AD)", ha="center", va="center",
         fontsize=14.5, color="#222222")

# legend column, last taxon at the top
leg_top0, leg_pitch, key_h = 75, 84.3, 23
for k, j in enumerate(range(len(taxa) - 1, -1, -1)):
    ytop = leg_top0 + leg_pitch * k
    fig.add_artist(Rectangle((fx(584), fy(ytop + key_h)), fx(22), key_h / H,
                             transform=fig.transFigure,
                             facecolor=taxon_colors[j], edgecolor="none"))
    fig.text(fx(569), fy(ytop + key_h / 2), taxa[j], rotation=90,
             ha="center", va="center", family=axis_font, fontsize=leg_size,
             color="#111111")

fig.savefig("out.png", dpi=100)
